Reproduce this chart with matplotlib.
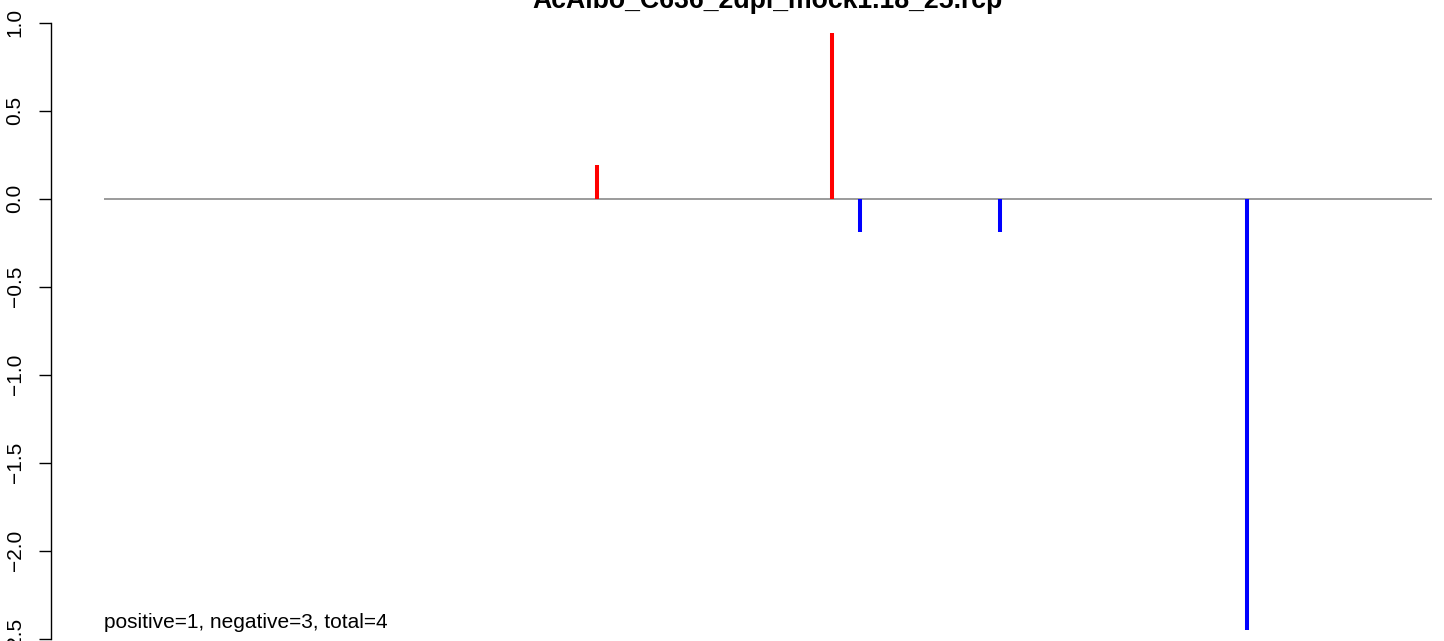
import matplotlib
matplotlib.use("Agg")
import matplotlib.pyplot as plt

# ---- data ----
title = "AcAlbo_C636_2dpi_mock1.18_25.rcp"
pos_x = [371, 548]
pos_y = [0.19, 0.94]
neg_x = [569, 675, 861]
neg_y = [-0.19, -0.19, -2.45]
seq_range = [0, 1000]
summary = "positive=1, negative=3, total=4"
yticks = [1.0, 0.5, 0.0, -0.5, -1.0, -1.5, -2.0, -2.5]

plt.rcParams['font.family'] = ['Liberation Sans', 'DejaVu Sans']

W, H, DPI = 1444, 641, 100
fig = plt.figure(figsize=(W / DPI, H / DPI), dpi=DPI)
left_px = 51
ax = fig.add_axes([left_px / W, 0, (W - left_px) / W, 1])

px_per_unit = (1432 - 104) / (seq_range[1] - seq_range[0])
ax.set_xlim((left_px - 104) / px_per_unit, (W - 104) / px_per_unit)
ypx = 176.0
ax.set_ylim(-(H - 198.5) / ypx, 198.5 / ypx)

ax.plot(seq_range, [0, 0], color='#808080', lw=1.1, solid_capstyle='butt', zorder=1)
ax.vlines(pos_x, 0, pos_y, colors='#FF0000', lw=2.9, capstyle='butt', zorder=2)
ax.vlines(neg_x, 0, neg_y, colors='#0000FF', lw=2.9, capstyle='butt', zorder=2)

ax.text(seq_range[0], -(628 - 198.5) / ypx, summary, fontsize=15,
        ha='left', va='baseline')

for s in ['top', 'right', 'bottom']:
    ax.spines[s].set_visible(False)
ax.spines['left'].set_bounds(min(yticks), max(yticks))
ax.spines['left'].set_linewidth(1.0)
ax.set_xticks([])
ax.set_yticks(yticks)
ax.set_yticklabels([f"{v:.1f}".replace('-', '\u2212') for v in yticks])
ax.tick_params(axis='y', length=9, width=1.0, pad=10, labelsize=15,
               labelrotation=90)
for lab in ax.get_yticklabels():
    lab.set_va('center')

fig.text(767.5 / W, 1 - 7.5 / H, title, fontsize=19.2, fontweight='bold',
         ha='center', va='baseline')

fig.savefig("out.png", dpi=DPI)
